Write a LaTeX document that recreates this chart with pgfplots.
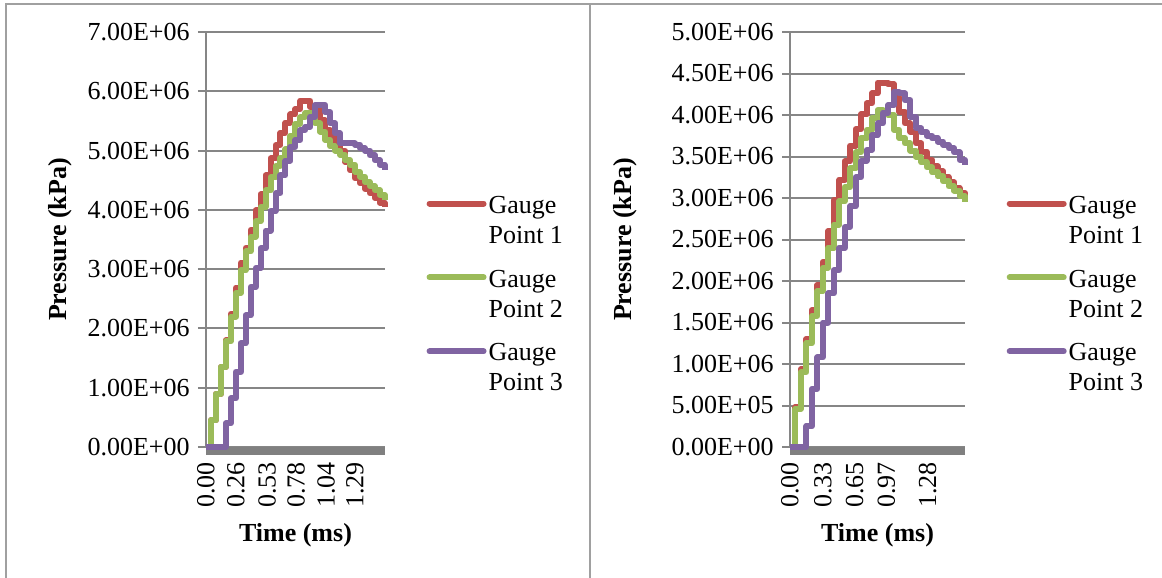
\documentclass[border=0pt]{standalone}
\usepackage{fontspec}
\setmainfont{Liberation Serif}
\usepackage{pgfplots}
\pgfplotsset{compat=1.18}
\definecolor{gpred}{RGB}{192,80,77}
\definecolor{gpgreen}{RGB}{155,187,89}
\definecolor{gppurple}{RGB}{128,100,162}
\definecolor{gridgray}{RGB}{134,134,134}
\definecolor{bargray}{RGB}{128,128,128}
\definecolor{framegray}{RGB}{160,160,160}
\pgfplotsset{
 panel/.style={
  scale only axis, height=207.5pt, anchor=south west,
  ymin=0, clip=false,
  axis line style={draw=none},
  ytick pos=left, xtick pos=bottom, tick align=outside,
  xtick style={draw=none}, ytick style={gridgray, line width=1pt},
  major tick length=4pt,
  ymajorgrids, major grid style={gridgray, line width=1pt},
  scaled y ticks=false, scaled x ticks=false,
  yticklabel style={anchor=east, inner xsep=4pt},
  xticklabel style={rotate=90, anchor=east, inner xsep=3.5pt},
  xlabel={Time (ms)}, ylabel={Pressure (kPa)},
  label style={font=\bfseries},
  xlabel style={at={(axis description cs:0.5,-0.212)}, anchor=center},
  legend cell align=left,
  legend style={draw=none, fill=none, anchor=north west, row sep=22.5pt,
    inner sep=0pt, nodes={inner sep=1pt}},
  legend image code/.code={\draw[#1, line cap=round] (0pt,0.5pt) -- (27pt,0.5pt);},
  every axis plot/.append style={line width=3pt, line join=round},
 },
 series/.style={const plot, no marks, #1},
}
\newcommand{\lab}[1]{\begin{tabular}[t]{@{}l@{}}Gauge\\Point #1\end{tabular}}
\begin{document}
\fontsize{13}{15}\selectfont
\begin{tikzpicture}
\useasboundingbox (0,0) rectangle (581pt,289pt);
\draw[framegray,line width=1pt] (3pt,0pt) -- (3pt,287pt) -- (581pt,287pt);
\draw[framegray,line width=1pt] (295pt,0pt) -- (295pt,287pt);

% ---------------- left panel ----------------
\begin{axis}[panel, at={(103pt,65.5pt)}, width=89.5pt,
  xmin=0, xmax=1.55, ymax=7,
  ytick={0,1,2,3,4,5,6,7},
  yticklabels={0.00E+00,1.00E+06,2.00E+06,3.00E+06,4.00E+06,5.00E+06,6.00E+06,7.00E+06},
  xtick={0,0.26,0.53,0.78,1.04,1.29},
  xticklabels={0.00,0.26,0.53,0.78,1.04,1.29},
  ylabel style={at={(axis description cs:-0.8156,0.5)}, anchor=center},
  legend style={at={(axis description cs:1.23,0.62)}}]
\draw[gridgray, line width=1pt] (rel axis cs:0,0) -- (rel axis cs:0,1);
\addplot[bargray, line width=4pt, forget plot] coordinates {(0,-0.06) (1.55,-0.06)};
\addplot[series=gpred] coordinates {
(0,0) (0.043,0.45) (0.086,0.90) (0.129,1.35) (0.172,1.80) (0.215,2.25)
(0.258,2.69) (0.301,3.11) (0.344,3.36) (0.387,3.66) (0.430,3.99) (0.473,4.26)
(0.516,4.58) (0.559,4.87) (0.602,5.09) (0.645,5.30) (0.688,5.47) (0.731,5.61)
(0.774,5.70) (0.817,5.84) (0.860,5.84) (0.903,5.74) (0.946,5.74) (0.989,5.51)
(1.032,5.35) (1.075,5.23) (1.118,5.12) (1.161,5.00) (1.204,4.81) (1.247,4.67)
(1.290,4.53) (1.333,4.45) (1.376,4.36) (1.419,4.28) (1.462,4.20) (1.505,4.12)
(1.548,4.05)};
\addlegendentry{\lab{1}}
\addplot[series=gpgreen] coordinates {
(0,0) (0.043,0.45) (0.086,0.90) (0.129,1.35) (0.172,1.78) (0.215,2.20)
(0.258,2.60) (0.301,2.98) (0.344,3.30) (0.387,3.55) (0.430,3.81) (0.473,4.05)
(0.516,4.33) (0.559,4.55) (0.602,4.74) (0.645,4.88) (0.688,5.02) (0.731,5.25)
(0.774,5.45) (0.817,5.56) (0.860,5.63) (0.903,5.63) (0.946,5.46) (0.989,5.32)
(1.032,5.18) (1.075,5.07) (1.118,5.00) (1.161,4.93) (1.204,4.84) (1.247,4.76)
(1.290,4.64) (1.333,4.56) (1.376,4.47) (1.419,4.40) (1.462,4.33) (1.505,4.25)
(1.548,4.17)};
\addlegendentry{\lab{2}}
\addplot[series=gppurple] coordinates {
(0,0) (0.043,0) (0.086,0) (0.129,0) (0.172,0.40) (0.215,0.82)
(0.258,1.27) (0.301,1.75) (0.344,2.22) (0.387,2.70) (0.430,3.02) (0.473,3.35)
(0.516,3.65) (0.559,3.98) (0.602,4.28) (0.645,4.58) (0.688,4.83) (0.731,5.06)
(0.774,5.18) (0.817,5.35) (0.860,5.40) (0.903,5.57) (0.946,5.77) (0.989,5.77)
(1.032,5.65) (1.075,5.46) (1.118,5.29) (1.161,5.12) (1.204,5.12) (1.247,5.12)
(1.290,5.10) (1.333,5.04) (1.376,5.00) (1.419,4.92) (1.462,4.84) (1.505,4.76)
(1.548,4.67)};
\addlegendentry{\lab{3}}
\end{axis}

% ---------------- right panel ----------------
\begin{axis}[panel, at={(395pt,65.5pt)}, width=87.5pt,
  xmin=0, xmax=1.76, ymax=5,
  ytick={0,0.5,1,1.5,2,2.5,3,3.5,4,4.5,5},
  yticklabels={0.00E+00,5.00E+05,1.00E+06,1.50E+06,2.00E+06,2.50E+06,3.00E+06,3.50E+06,4.00E+06,4.50E+06,5.00E+06},
  xtick={0,0.33,0.65,0.97,1.384},
  xticklabels={0.00,0.33,0.65,0.97,1.28},
  ylabel style={at={(axis description cs:-0.943,0.5)}, anchor=center},
  legend style={at={(axis description cs:1.236,0.62)}}]
\draw[gridgray, line width=1pt] (rel axis cs:0,0) -- (rel axis cs:0,1);
\addplot[bargray, line width=4pt, forget plot] coordinates {(0,-0.043) (1.76,-0.043)};
\addplot[series=gpred] coordinates {
(0,0) (0.055,0.48) (0.110,0.94) (0.165,1.30) (0.220,1.65) (0.275,1.95)
(0.330,2.23) (0.385,2.60) (0.440,2.98) (0.495,3.22) (0.550,3.44) (0.605,3.63)
(0.660,3.83) (0.715,4.01) (0.770,4.14) (0.825,4.26) (0.880,4.39) (0.935,4.39)
(0.990,4.37) (1.045,4.22) (1.100,4.04) (1.155,3.90) (1.210,3.80) (1.265,3.66)
(1.320,3.56) (1.375,3.46) (1.430,3.38) (1.485,3.32) (1.540,3.25) (1.595,3.19)
(1.650,3.12) (1.705,3.06) (1.760,3.00)};
\addlegendentry{\lab{1}}
\addplot[series=gpgreen] coordinates {
(0,0) (0.055,0.46) (0.110,0.90) (0.165,1.25) (0.220,1.58) (0.275,1.88)
(0.330,2.16) (0.385,2.40) (0.440,2.68) (0.495,2.96) (0.550,3.13) (0.605,3.36)
(0.660,3.55) (0.715,3.72) (0.770,3.82) (0.825,3.96) (0.880,4.06) (0.935,4.04)
(0.990,4.00) (1.045,3.82) (1.100,3.72) (1.155,3.66) (1.210,3.57) (1.265,3.50)
(1.320,3.43) (1.375,3.37) (1.430,3.31) (1.485,3.26) (1.540,3.20) (1.595,3.14)
(1.650,3.09) (1.705,3.02) (1.760,2.95)};
\addlegendentry{\lab{2}}
\addplot[series=gppurple] coordinates {
(0,0) (0.055,0) (0.110,0) (0.165,0.25) (0.220,0.70) (0.275,1.08)
(0.330,1.50) (0.385,1.85) (0.440,2.13) (0.495,2.40) (0.550,2.65) (0.605,2.90)
(0.660,3.25) (0.715,3.45) (0.770,3.58) (0.825,3.76) (0.880,3.90) (0.935,4.03)
(0.990,4.12) (1.045,4.28) (1.100,4.26) (1.155,4.18) (1.210,3.98) (1.265,3.84)
(1.320,3.79) (1.375,3.75) (1.430,3.72) (1.485,3.68) (1.540,3.64) (1.595,3.60)
(1.650,3.55) (1.705,3.46) (1.760,3.40)};
\addlegendentry{\lab{3}}
\end{axis}
\end{tikzpicture}
\end{document}
